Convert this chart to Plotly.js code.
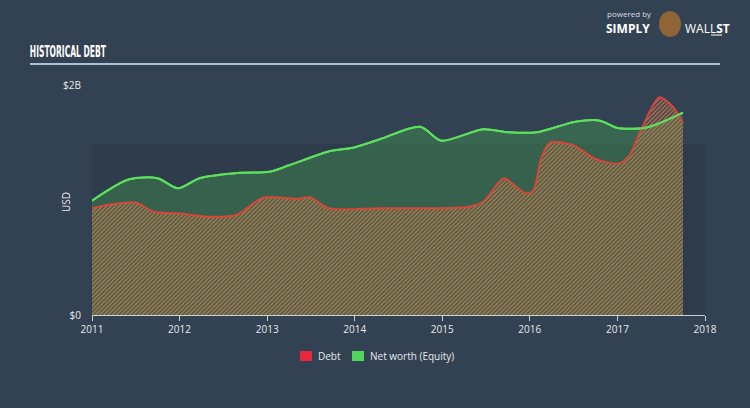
<!DOCTYPE html>
<html>
<head>
<meta charset="utf-8">
<script src="https://cdn.plot.ly/plotly-3.0.1.min.js"></script>
<style>
html,body{margin:0;padding:0;background:#334252;}
#chart{width:750px;height:408px;}
</style>
</head>
<body>
<div id="chart"></div>
<script>
// Net worth (Equity), USD millions
const equityDates = ['2011-01-01','2011-06-05','2011-10-01','2011-12-25','2012-03-25','2012-09-10','2013-01-10','2013-04-05','2013-09-20','2013-12-25','2014-04-15','2014-10-01','2014-12-28','2015-06-20','2015-10-05','2016-01-30','2016-07-10','2016-10-20','2016-12-28','2017-04-15','2017-06-25','2017-10-01'];
const equityValues = [994,1180,1189,1102,1189,1237,1246,1304,1426,1455,1528,1637,1516,1615,1589,1589,1681,1690,1629,1623,1667,1759];

// Debt, USD millions
const debtDates = ['2011-01-01','2011-03-25','2011-07-05','2011-09-15','2012-01-01','2012-04-25','2012-08-25','2012-12-15','2013-05-05','2013-06-28','2013-09-15','2014-04-15','2015-04-20','2015-06-20','2015-09-15','2015-11-05','2015-12-15','2016-01-15','2016-02-18','2016-03-25','2016-06-28','2016-10-05','2017-01-10','2017-02-20','2017-04-15','2017-06-25','2017-08-20','2017-10-01'];
const debtValues = [928,963,977,898,884,855,870,1020,1011,1023,928,928,942,985,1189,1116,1058,1081,1363,1498,1478,1354,1319,1391,1637,1893,1811,1672];

const yTickVals = [0, 2000];
const yTickText = ['$0', '$2B'];
const legendNames = ['Debt', 'Net worth (Equity)'];
const legendColors = ['#e8283a', '#4fd65a'];

const txt = '#e6e9ec';

const traces = [
  {
    x: equityDates, y: equityValues, type: 'scatter', mode: 'lines',
    line: {color: '#5ce05c', width: 2, shape: 'spline', smoothing: 0.8},
    fill: 'tozeroy', fillcolor: 'rgba(74,186,75,0.3)',
    showlegend: false, hoverinfo: 'skip'
  },
  {
    x: debtDates, y: debtValues, type: 'scatter', mode: 'lines',
    line: {color: 'rgba(235,65,55,0.85)', width: 2, shape: 'spline', smoothing: 0.8},
    fill: 'tozeroy', fillcolor: 'rgba(0,0,0,0)',
    fillpattern: {shape: '/', size: 3, solidity: 0.42, fgcolor: 'rgba(215,130,80,0.8)', bgcolor: 'rgba(175,95,60,0.14)'},
    showlegend: false, hoverinfo: 'skip'
  },
  {
    x: equityDates, y: equityValues, type: 'scatter', mode: 'lines',
    line: {color: '#5ce05c', width: 2, shape: 'spline', smoothing: 0.8},
    showlegend: false, hoverinfo: 'skip'
  }
];

// pixel -> paper helpers (plot area 92..705 x, 85..315 y)
const px = v => (v - 92) / 613;
const py = v => (315 - v) / 230;

const layout = {
  width: 750, height: 408,
  paper_bgcolor: '#334252', plot_bgcolor: 'rgba(0,0,0,0)',
  margin: {l: 92, r: 45, t: 85, b: 93},
  font: {family: 'Open Sans, sans-serif', color: txt, size: 10},
  showlegend: false,
  xaxis: {
    type: 'date', range: ['2011-01-01', '2018-01-01'],
    tickformat: '%Y', dtick: 'M12', tick0: '2011-01-01',
    showgrid: false, zeroline: false,
    showline: true, linecolor: '#c8cfd6', linewidth: 1,
    ticks: 'outside', ticklen: 5, tickcolor: '#c8cfd6',
    tickfont: {size: 10, color: txt}, fixedrange: true
  },
  yaxis: {
    range: [0, 2000], tickvals: yTickVals, ticktext: yTickText,
    showgrid: false, zeroline: false, showline: false, ticks: '',
    tickfont: {size: 10, color: txt}, ticklabelstandoff: 10,
    fixedrange: true
  },
  shapes: [
    {type: 'rect', xref: 'paper', yref: 'y', x0: 0, x1: 1, y0: 0, y1: 1487,
     fillcolor: 'rgba(20,30,45,0.15)', line: {width: 0}, layer: 'below'},
    {type: 'line', xref: 'paper', yref: 'paper', x0: px(30), x1: px(720), y0: py(64), y1: py(64),
     line: {color: '#a9c2d8', width: 2}},
    {type: 'line', xref: 'paper', yref: 'paper', x0: px(711), x1: px(722), y0: py(35), y1: py(35),
     line: {color: '#ffffff', width: 1}},
    {type: 'circle', xref: 'paper', yref: 'paper', x0: px(659), x1: px(681), y0: py(37), y1: py(11),
     fillcolor: '#8f6436', line: {width: 0}},
    {type: 'rect', xref: 'paper', yref: 'paper', x0: px(300), x1: px(312), y0: py(361), y1: py(351),
     fillcolor: legendColors[0], line: {width: 0}},
    {type: 'rect', xref: 'paper', yref: 'paper', x0: px(352), x1: px(364), y0: py(361), y1: py(351),
     fillcolor: legendColors[1], line: {width: 0}}
  ],
  annotations: [
    {text: '<b>HISTORICAL DEBT</b>', xref: 'paper', yref: 'paper', x: px(68), y: py(52),
     xanchor: 'center', yanchor: 'middle', showarrow: false,
     font: {family: 'DejaVu Sans Condensed, sans-serif', size: 15, color: '#ffffff'}},
    {text: 'USD', xref: 'paper', yref: 'paper', x: px(66), y: py(202), textangle: -90,
     xanchor: 'center', yanchor: 'middle', showarrow: false,
     font: {size: 10, color: txt}},
    {text: legendNames[0], xref: 'paper', yref: 'paper', x: px(316), y: py(356),
     xanchor: 'left', yanchor: 'middle', showarrow: false,
     font: {size: 10, color: txt}},
    {text: legendNames[1], xref: 'paper', yref: 'paper', x: px(368), y: py(356),
     xanchor: 'left', yanchor: 'middle', showarrow: false,
     font: {size: 10, color: txt}},
    {text: 'powered by', xref: 'paper', yref: 'paper', x: px(606), y: py(13),
     xanchor: 'left', yanchor: 'middle', showarrow: false, borderpad: 0,
     font: {size: 8, color: '#d8dde2'}},
    {text: '<b>SIMPLY</b>', xref: 'paper', yref: 'paper', x: px(605), y: py(28),
     xanchor: 'left', yanchor: 'middle', showarrow: false, borderpad: 0,
     font: {size: 12, color: '#ffffff'}},
    {text: 'WALL<b>ST</b>', xref: 'paper', yref: 'paper', x: px(684), y: py(28),
     xanchor: 'left', yanchor: 'middle', showarrow: false, borderpad: 0,
     font: {size: 12, color: '#ffffff'}}
  ]
};

Plotly.newPlot('chart', traces, layout, {displayModeBar: false, staticPlot: true}).then(gd => {
  // condense the title like the reference's narrow display face
  gd.querySelectorAll('g.annotation text').forEach(t => {
    if (t.textContent === 'HISTORICAL DEBT') {
      t.setAttribute('textLength', '76');
      t.setAttribute('lengthAdjust', 'spacingAndGlyphs');
    }
  });
});
</script>
</body>
</html>
